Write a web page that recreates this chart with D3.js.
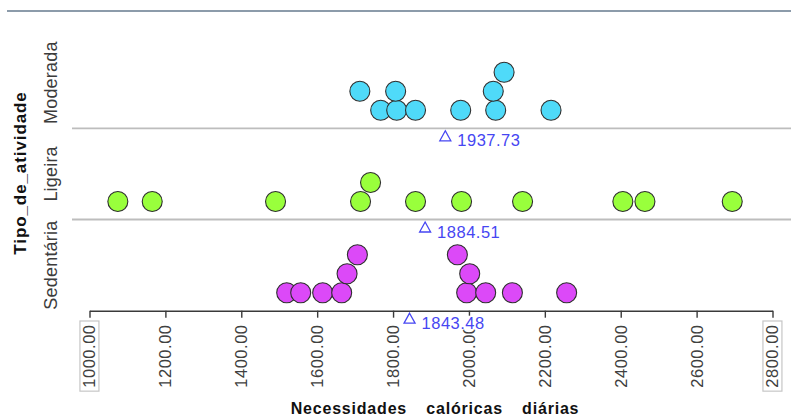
<!DOCTYPE html>
<html>
<head>
<meta charset="utf-8">
<script src="https://cdn.jsdelivr.net/npm/d3@7"></script>
<style>
  html, body { margin: 0; padding: 0; background: #fff; }
  svg { display: block; }
  text { font-family: "Liberation Sans", Arial, sans-serif; }
</style>
</head>
<body>
<svg id="chart" width="791" height="418"></svg>
<script>
// Activity groups, top to bottom
const categories = ["Moderada", "Ligeira", "Sedentária"];

// Daily calorie needs per person, by activity group
const moderada   = [1712.5, 1767.4, 1806.8, 1809.6, 1859.2, 1978.3, 2064.1, 2070.5, 2092.6, 2216.3];
const ligeira    = [1074.7, 1165.3, 1490.3, 1714.3, 1740.7, 1859.2, 1980.5, 2141.3, 2405.6, 2463.8, 2693.9];
const sedentaria = [1519.7, 1556.6, 1614.5, 1664.6, 1678.8, 1706.0, 1969.5, 1994.0, 2002.0, 2044.1, 2114.5, 2257.46];

// Stack index of each dot in the dodged dot plot (0 = resting on the baseline)
const moderadaStack   = [1, 0, 1, 0, 0, 0, 1, 0, 2, 0];
const ligeiraStack    = [0, 0, 0, 0, 1, 0, 0, 0, 0, 0, 0];
const sedentariaStack = [0, 0, 0, 0, 1, 2, 2, 0, 1, 0, 0, 0];

// Axis tick values
const xTicks = [1000, 1200, 1400, 1600, 1800, 2000, 2200, 2400, 2600, 2800];

const groups = [
  { name: "Moderada",   values: moderada,   stack: moderadaStack,   color: "#4fdaf9" },
  { name: "Ligeira",    values: ligeira,    stack: ligeiraStack,    color: "#99ff3c" },
  { name: "Sedentária", values: sedentaria, stack: sedentariaStack, color: "#dc49f8" }
];

const svg = d3.select("#chart");
const fmt = d3.format(".2f");

const x = d3.scaleLinear().domain([1000, 2800]).range([89.5, 772.5]);
const band = d3.scaleBand().domain(categories).range([37.1, 310.7]);
const stackY = d3.scaleLinear().domain([0, 1]).range([0, -19]);

// Frame line along the top
svg.append("line")
  .attr("x1", 7).attr("x2", 791).attr("y1", 11).attr("y2", 11)
  .attr("stroke", "#8c9baa").attr("stroke-width", 2);

// Separators between the activity bands
categories.slice(0, -1).forEach(c => {
  const y = band(c) + band.bandwidth();
  svg.append("line")
    .attr("x1", 72).attr("x2", 791).attr("y1", y).attr("y2", y)
    .attr("stroke", "#bdbdbd").attr("stroke-width", 1.8);
});

// Category labels
categories.forEach(c => {
  const cy = band(c) + band.bandwidth() / 2;
  svg.append("text")
    .attr("transform", `translate(56.5,${cy}) rotate(-90)`)
    .attr("text-anchor", "middle")
    .attr("font-size", 18)
    .attr("letter-spacing", 0.2)
    .attr("fill", "#3c3c3c")
    .text(c);
});

// Y axis title
svg.append("text")
  .attr("transform", `translate(26,173) rotate(-90)`)
  .attr("text-anchor", "middle")
  .attr("font-size", 17)
  .attr("font-weight", "bold")
  .attr("letter-spacing", 0.9)
  .attr("fill", "#111")
  .text("Tipo_de_atividade");

// X axis
const axisY = band.range()[1];
const axisG = svg.append("g")
  .attr("transform", `translate(0,${axisY})`)
  .call(d3.axisBottom(x).tickValues(xTicks).tickSize(7).tickSizeOuter(0).tickFormat(""));
axisG.select(".domain").attr("stroke", "#3a3a3a").attr("stroke-width", 1.6);
axisG.selectAll(".tick line").attr("stroke", "#3a3a3a").attr("stroke-width", 1.4);

// Rotated tick labels
const labelG = svg.append("g");
xTicks.forEach((v, i) => {
  const g = labelG.append("g")
    .attr("transform", `translate(${x(v)},324.5) rotate(-90)`);
  const t = g.append("text")
    .attr("text-anchor", "end")
    .attr("dy", "0.36em")
    .attr("font-size", 16.5)
    .attr("letter-spacing", 0.5)
    .attr("fill", "#404040")
    .text(fmt(v));
  if (i === 0 || i === xTicks.length - 1) {
    const b = t.node().getBBox();
    g.insert("rect", "text")
      .attr("x", b.x - 3.5).attr("y", b.y - 0.5)
      .attr("width", b.width + 7).attr("height", b.height + 1)
      .attr("fill", "none").attr("stroke", "#c6c6c6").attr("stroke-width", 1.2);
  }
});

// X axis title
svg.append("text")
  .attr("x", 435).attr("y", 414)
  .attr("text-anchor", "middle")
  .attr("font-size", 16)
  .attr("font-weight", "bold")
  .attr("letter-spacing", 0.8)
  .attr("word-spacing", 14)
  .attr("fill", "#111")
  .text("Necessidades calóricas diárias");

// Dots and group means
groups.forEach(gr => {
  const bottom = band(gr.name) + band.bandwidth();
  const base = bottom - 18;
  const pts = gr.values.map((v, i) => ({ v, s: gr.stack[i] }))
    .sort((a, b) => a.s - b.s || a.v - b.v);

  svg.append("g").selectAll("circle")
    .data(pts)
    .join("circle")
    .attr("cx", d => x(d.v))
    .attr("cy", d => base + stackY(d.s))
    .attr("r", 10)
    .attr("fill", gr.color)
    .attr("stroke", "#2e2e2e")
    .attr("stroke-width", 1.1);

  const m = d3.mean(gr.values);
  const mx = x(m);
  const top = bottom + 2.5;
  svg.append("path")
    .attr("d", `M${mx},${top} L${mx + 5.5},${top + 10} L${mx - 5.5},${top + 10} Z`)
    .attr("fill", "none")
    .attr("stroke", "#4646f2")
    .attr("stroke-width", 1.3);
  const mg = svg.append("g");
  const mt = mg.append("text")
    .attr("x", mx + 12).attr("y", bottom + 18)
    .attr("font-size", 16.5)
    .attr("letter-spacing", 0.5)
    .attr("fill", "#4646f2")
    .text(fmt(m));
  // white backing so the mean label reads cleanly over tick labels
  const mb = mt.node().getBBox();
  mg.insert("rect", "text")
    .attr("x", mb.x).attr("y", mb.y + 2)
    .attr("width", mb.width).attr("height", mb.height - 4)
    .attr("fill", "#fff");
});
</script>
</body>
</html>
